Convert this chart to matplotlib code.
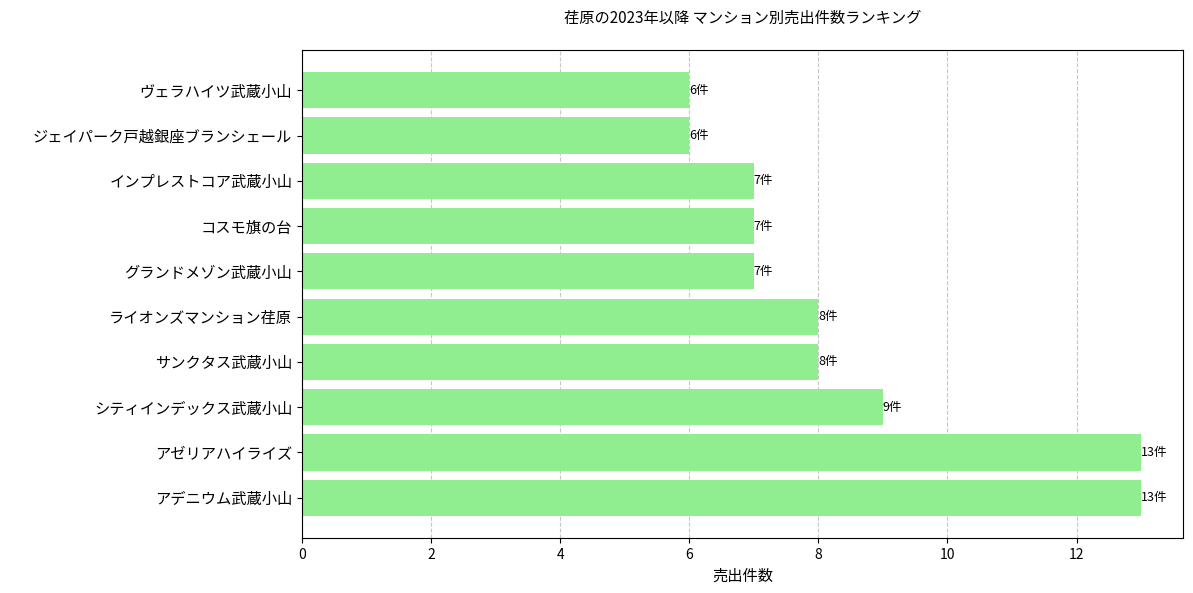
import matplotlib
matplotlib.use("Agg")
import matplotlib.pyplot as plt

plt.rcParams['font.family'] = ['Noto Sans CJK JP', 'DejaVu Sans']

names = ["アデニウム武蔵小山", "アゼリアハイライズ", "シティインデックス武蔵小山", "サンクタス武蔵小山",
         "ライオンズマンション荏原", "グランドメゾン武蔵小山", "コスモ旗の台", "インプレストコア武蔵小山",
         "ジェイパーク戸越銀座ブランシェール", "ヴェラハイツ武蔵小山"]
counts = [13, 13, 9, 8, 8, 7, 7, 7, 6, 6]

fig = plt.figure(figsize=(11.93, 5.93), dpi=100)
ax = fig.add_axes([302/1193, 1-538/593, (1183-302)/1193, (538-50)/593])
bars = ax.barh(names, counts, color='lightgreen', zorder=2)
for b, c in zip(bars, counts):
    ax.text(b.get_width(), b.get_y()+b.get_height()/2, f"{c}件", va='center', ha='left', fontsize=9)
ax.grid(axis='x', linestyle='--', alpha=0.7, zorder=0)
ax.set_xlabel("売出件数", fontsize=11)
ax.set_title("荏原の2023年以降 マンション別売出件数ランキング", fontsize=11, pad=20)
ax.tick_params(axis='y', labelsize=11)
ax.tick_params(axis='x', labelsize=10)
fig.savefig("out.png", dpi=100)
